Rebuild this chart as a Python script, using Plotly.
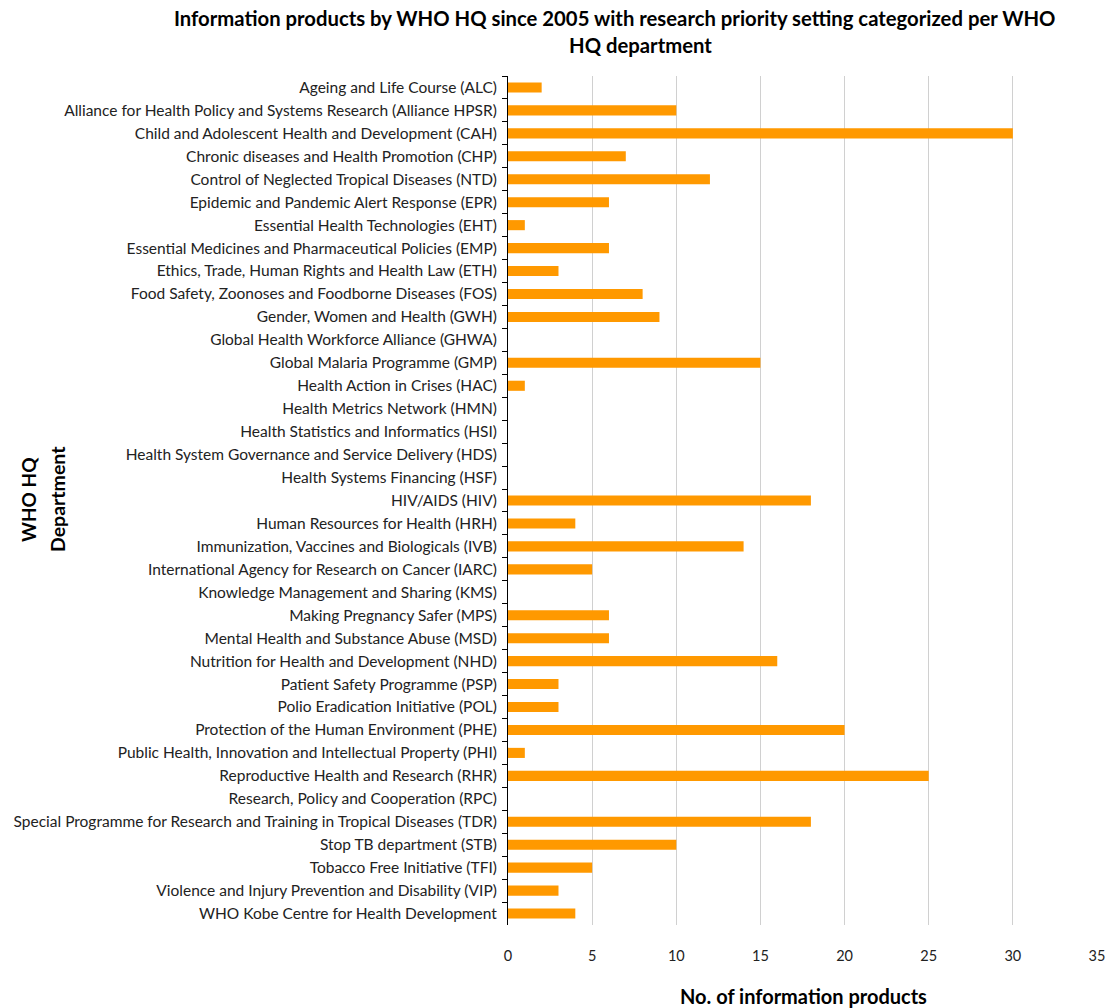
import plotly.graph_objects as go

departments = [
    "Ageing and Life Course (ALC)",
    "Alliance for Health Policy and Systems Research (Alliance HPSR)",
    "Child and Adolescent Health and Development (CAH)",
    "Chronic diseases and Health Promotion (CHP)",
    "Control of Neglected Tropical Diseases (NTD)",
    "Epidemic and Pandemic Alert Response (EPR)",
    "Essential Health Technologies (EHT)",
    "Essential Medicines and Pharmaceutical Policies (EMP)",
    "Ethics, Trade, Human Rights and Health Law (ETH)",
    "Food Safety, Zoonoses and Foodborne Diseases (FOS)",
    "Gender, Women and Health (GWH)",
    "Global Health Workforce Alliance (GHWA)",
    "Global Malaria Programme (GMP)",
    "Health Action in Crises (HAC)",
    "Health Metrics Network (HMN)",
    "Health Statistics and Informatics (HSI)",
    "Health System Governance and Service Delivery (HDS)",
    "Health Systems Financing (HSF)",
    "HIV/AIDS (HIV)",
    "Human Resources for Health (HRH)",
    "Immunization, Vaccines and Biologicals (IVB)",
    "International Agency for Research on Cancer (IARC)",
    "Knowledge Management and Sharing (KMS)",
    "Making Pregnancy Safer (MPS)",
    "Mental Health and Substance Abuse (MSD)",
    "Nutrition for Health and Development (NHD)",
    "Patient Safety Programme (PSP)",
    "Polio Eradication Initiative (POL)",
    "Protection of the Human Environment (PHE)",
    "Public Health, Innovation and Intellectual Property (PHI)",
    "Reproductive Health and Research (RHR)",
    "Research, Policy and Cooperation (RPC)",
    "Special Programme for Research and Training in Tropical Diseases (TDR)",
    "Stop TB department (STB)",
    "Tobacco Free Initiative (TFI)",
    "Violence and Injury Prevention and Disability (VIP)",
    "WHO Kobe Centre for Health Development",
]
products = [2, 10, 30, 7, 12, 6, 1, 6, 3, 8, 9, 0, 15, 1, 0, 0, 0, 0, 18, 4,
            14, 5, 0, 6, 6, 16, 3, 3, 20, 1, 25, 0, 18, 10, 5, 3, 4]

title_lines = [
    "Information products by WHO HQ since 2005 with research priority setting categorized per WHO",
    "HQ department",
]

FONT = "Lato, 'Open Sans', sans-serif"
W, H = 1109, 1008
ML, MR, MT, MB = 508, 12, 76, 83
PW, PH = W - ML - MR, H - MT - MB


def px_x(x):
    return (x - ML) / PW


def px_y(y):
    return (H - MB - y) / PH


fig = go.Figure(go.Bar(
    x=products, y=departments, orientation="h",
    marker=dict(color="#FF9900", line=dict(width=0)),
))

bold = dict(family=FONT, color="#000000", weight="bold")

fig.update_layout(
    width=W, height=H,
    margin=dict(l=ML, r=MR, t=MT, b=MB),
    plot_bgcolor="white", paper_bgcolor="white",
    bargap=0.56,
    showlegend=False,
    font=dict(family=FONT, size=15, color="#222222"),
    xaxis=dict(
        range=[0, 35], dtick=5, tick0=0,
        showgrid=True, gridcolor="#d0d0d0", gridwidth=1,
        zeroline=False, showline=False,
        ticks="", ticklabelstandoff=20,
        tickfont=dict(size=14.5, color="#222222"),
        automargin=False,
    ),
    yaxis=dict(
        autorange="reversed",
        showline=True, linecolor="#000000", linewidth=1,
        ticks="outside", ticklen=5, tickcolor="#000000",
        tickson="boundaries", ticklabelstandoff=7,
        tickfont=dict(size=15.5, color="#222222"),
        showgrid=False,
        automargin=False,
    ),
    annotations=[
        dict(text=title_lines[0], xref="paper", yref="paper",
             x=px_x(615), y=px_y(18), showarrow=False,
             xanchor="center", yanchor="middle",
             font=dict(size=20.3, **bold)),
        dict(text=title_lines[1], xref="paper", yref="paper",
             x=px_x(640), y=px_y(45), showarrow=False,
             xanchor="center", yanchor="middle",
             font=dict(size=20.3, **bold)),
        dict(text="WHO HQ", textangle=-90, xref="paper", yref="paper",
             x=px_x(28), y=px_y(500), showarrow=False,
             xanchor="center", yanchor="middle",
             font=dict(size=19, **bold)),
        dict(text="Department", textangle=-90, xref="paper", yref="paper",
             x=px_x(57), y=px_y(499), showarrow=False,
             xanchor="center", yanchor="middle",
             font=dict(size=19.5, **bold)),
        dict(text="No. of information products", xref="paper", yref="paper",
             x=px_x(803), y=px_y(996), showarrow=False,
             xanchor="center", yanchor="middle",
             font=dict(size=20, **bold)),
    ],
)

fig.write_html("out.html")
